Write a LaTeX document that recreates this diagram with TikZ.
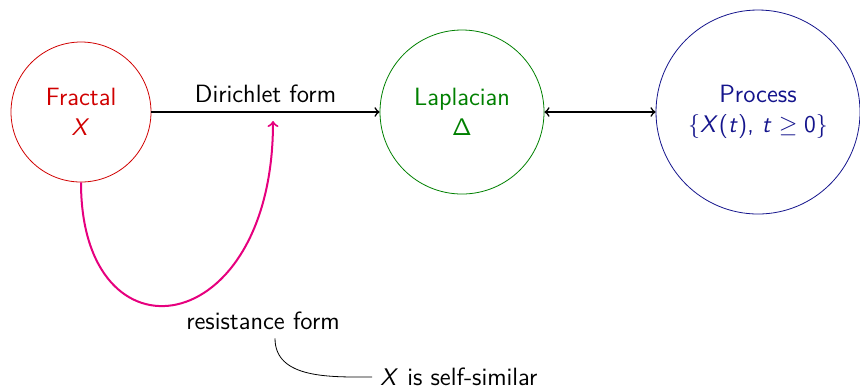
\documentclass[tikz,border=0pt,12pt]{standalone}
\usepackage{amsmath}
\usepackage{amssymb}
\usepackage{tikz}
\usepackage{xcolor}
% sans serif letters and digits in math
\DeclareSymbolFont{operators}{OT1}{cmss}{m}{n}
\DeclareSymbolFont{letters}{OT1}{cmss}{m}{sl}
\mathcode`\,="602C
\definecolor{fractalred}{RGB}{208,0,0}
\definecolor{lapgreen}{RGB}{0,128,0}
\definecolor{procblue}{RGB}{20,20,140}
\definecolor{resmagenta}{RGB}{230,0,126}

\begin{document}
\begin{tikzpicture}[x=0.5pt,y=-0.5pt,font=\fontsize{12.5}{15}\selectfont\sffamily]
    \useasboundingbox (0,0) rectangle (860,388);
    \node [circle,draw=fractalred,text=fractalred,minimum size=70pt,align=center] (fractal) at (81,112) {Fractal\\$X$};
    \node [circle,draw=lapgreen,text=lapgreen,minimum size=82pt,align=center] (laplacian) at (462,112) {Laplacian\\$\Delta$};
    \node [circle,draw=procblue,text=procblue,minimum size=102pt,inner sep=0pt,align=center] (process) at (758,112) {Process\\$\{X(t),\, t\geq 0\}$};
    \draw[thick,->] (fractal)--(laplacian) node[midway,above]{Dirichlet form};
    \draw[thick,<->] (laplacian)--(process);
    \coordinate (rfend) at (273,121);
    \draw[resmagenta,line width=1pt,->] (fractal.south) .. controls (81,368) and (273,342) .. (rfend);
    \node (resform) at (263,321) {resistance form};
    \node [anchor=west] (selfsim) at (372,377) {$X$ is self-similar};
    \draw ([xshift=6pt]resform.south) to[out=-90,in=180] (selfsim.west);
\end{tikzpicture}
\end{document}
